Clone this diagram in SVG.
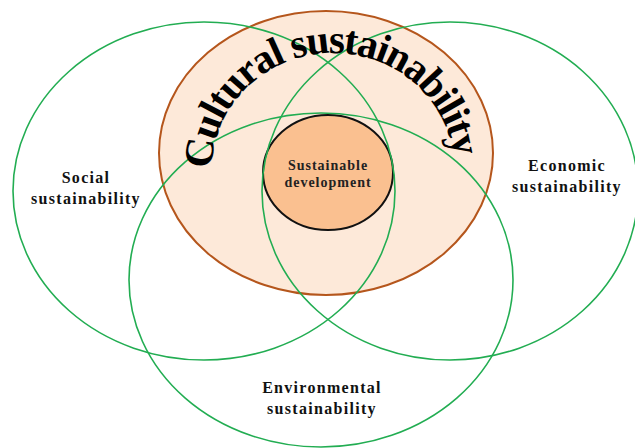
<svg xmlns="http://www.w3.org/2000/svg" width="635" height="448" viewBox="0 0 635 448">
<style>
.green{fill:none;stroke:#22ad52;stroke-width:1.6}
.lbl{font-family:"Liberation Serif","Times New Roman",serif;font-weight:bold;font-size:16px;letter-spacing:1.3px;fill:#111;text-anchor:middle}
.core{font-family:"Liberation Serif","Times New Roman",serif;font-weight:bold;font-size:14px;letter-spacing:1px;fill:#222;text-anchor:middle}
.arc{font-family:"Liberation Serif","Times New Roman",serif;font-weight:bold;font-size:41px;letter-spacing:-1.6px;fill:#000}
</style>
<defs>
<path id="arcPath" d="M 212,169 A 121,116 0 0 1 454,169"/>
</defs>
<rect width="635" height="448" fill="#fff"/>
<g id="cultural">
<ellipse cx="326" cy="153" rx="167" ry="142" fill="#fde9d9" stroke="#b5561c" stroke-width="2"/>
</g>
<g id="core">
<ellipse cx="328" cy="172.5" rx="65" ry="57.5" fill="#fac090" stroke="#111" stroke-width="2"/>
</g>
<g id="connectors">
<ellipse id="social-ring" class="green" cx="204" cy="191" rx="191" ry="169"/>
<ellipse id="economic-ring" class="green" cx="450" cy="191" rx="188" ry="169"/>
<ellipse id="environmental-ring" class="green" cx="321" cy="280" rx="192" ry="167"/>
</g>
<g id="social"><text class="lbl" x="86" y="183">Social</text><text class="lbl" x="86" y="204">sustainability</text></g>
<g id="economic"><text class="lbl" x="567" y="171">Economic</text><text class="lbl" x="567" y="192">sustainability</text></g>
<g id="environmental"><text class="lbl" x="322" y="393">Environmental</text><text class="lbl" x="322" y="414">sustainability</text></g>
<g id="sustainable-development"><text class="core" x="328" y="170">Sustainable</text><text class="core" x="328" y="187">development</text></g>
<g id="cultural-label"><text class="arc"><textPath href="#arcPath">Cultural sustainability</textPath></text></g>
</svg>
